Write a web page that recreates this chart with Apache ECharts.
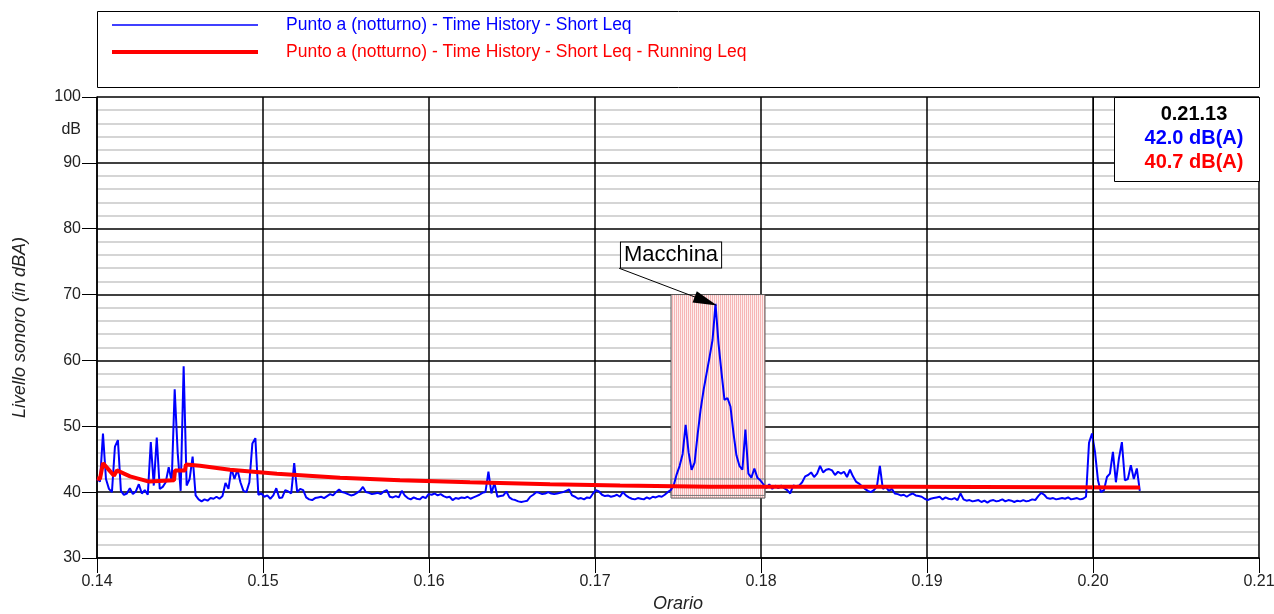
<!DOCTYPE html>
<html><head><meta charset="utf-8">
<script src="https://cdn.jsdelivr.net/npm/echarts@6/dist/echarts.min.js"></script>
<style>html,body{margin:0;padding:0;background:#fff;overflow:hidden}#c{width:1274px;height:614px}</style>
</head><body><div id="c"></div><script>
// ---- data ----
const seriesNames = [
  'Punto a (notturno) - Time History - Short Leq',
  'Punto a (notturno) - Time History - Short Leq - Running Leq'
];
const xRange = [0.14, 0.21];
const yRange = [30, 100];
const blueStart = 0.14;     // time of first Short Leq sample
const blueStep = 0.00018;   // sampling interval of Short Leq
const blueValues = [
  42.0,41.6,48.9,42.0,40.5,40.0,46.9,47.9,40.2,39.6,
  39.8,40.6,39.7,40.1,41.2,39.8,40.3,39.6,47.6,41.0,
  48.3,40.5,40.8,41.5,43.8,41.6,55.6,46.0,40.2,59.1,
  41.0,42.0,45.4,39.5,38.9,38.6,38.9,38.7,39.1,39.0,
  39.3,39.0,39.4,41.4,40.5,43.6,42.0,43.4,41.5,40.2,
  40.0,41.5,47.4,48.2,39.6,39.8,39.3,39.5,39.0,39.5,
  40.6,39.1,39.2,40.3,40.1,39.8,44.4,40.0,40.5,40.3,
  39.2,38.9,38.8,39.1,39.2,39.3,39.1,39.4,39.7,39.5,
  40.0,40.4,40.0,39.9,39.7,39.5,39.6,39.9,40.2,40.8,
  40.0,39.9,39.7,39.8,39.9,39.7,40.1,40.3,39.3,39.2,
  39.4,39.2,40.2,39.5,39.1,38.9,39.2,39.0,38.9,39.3,
  39.1,39.7,39.6,39.8,39.5,39.7,39.4,39.2,39.3,38.8,
  39.1,39.0,39.2,39.1,39.3,39.0,39.2,39.4,39.6,39.9,
  40.0,43.1,39.8,41.4,39.3,39.4,39.5,40.1,39.2,38.9,
  38.8,38.6,38.5,38.6,38.7,39.3,39.6,40.0,39.9,39.7,
  39.8,40.0,39.8,39.7,39.8,39.9,40.0,40.2,40.4,39.5,
  39.3,39.0,39.1,38.9,39.2,39.1,39.8,40.3,40.1,39.6,
  39.4,39.5,39.3,39.4,39.6,39.3,40.0,39.5,39.2,39.0,
  38.9,39.1,39.0,38.9,39.2,39.0,39.3,39.2,39.4,39.3,
  39.6,40.0,40.3,41.0,42.7,44.0,45.8,50.2,46.0,43.4,
  44.5,48.7,52.5,55.5,58.0,60.5,63.1,68.6,62.6,58.2,
  54.0,54.3,53.0,49.0,45.6,44.0,43.4,49.5,42.8,42.2,
  43.6,42.2,41.8,41.2,40.6,41.2,40.5,41.0,40.6,41.0,
  40.6,40.3,39.8,41.0,40.9,41.0,41.5,42.4,42.6,43.0,
  42.3,42.8,44.0,43.0,43.4,43.5,43.3,42.6,43.1,42.8,
  43.1,42.3,43.4,42.4,41.6,41.3,40.9,40.5,40.2,40.0,
  40.3,40.8,44.0,40.5,40.8,40.2,40.5,39.8,39.7,39.5,
  39.6,39.3,39.6,39.8,39.5,39.4,39.3,39.0,38.8,39.0,
  39.1,39.2,39.3,38.9,39.2,39.0,38.9,39.1,38.8,39.8,
  38.9,38.7,38.8,38.6,38.7,38.8,38.5,38.7,38.4,38.7,
  38.8,38.6,38.7,38.9,38.6,38.8,38.7,38.5,38.7,38.6,
  38.8,38.6,38.7,38.9,38.8,39.4,39.9,39.6,39.1,39.0,
  39.1,38.9,39.0,39.1,39.0,39.2,38.9,39.0,39.1,38.9,
  39.0,39.3,47.5,48.9,46.1,41.8,40.0,40.3,42.3,42.8,
  46.1,41.5,45.1,47.6,41.8,42.0,44.1,42.0,43.6,40.2
];
const runningLeq = [
  [0.14000,42.1],[0.14018,42.0],[0.14036,44.4],[0.14102,42.5],[0.14120,43.3],
  [0.14199,42.4],[0.14313,41.6],[0.14325,41.8],[0.14464,41.8],[0.14470,43.3],
  [0.14530,43.3],[0.14536,44.2],[0.14620,44.0],[0.14801,43.4],[0.15084,42.8],
  [0.15464,42.2],[0.15825,41.8],[0.16247,41.5],[0.16729,41.2],[0.17151,41.0],
  [0.17693,40.8],[0.18837,40.8],[0.20283,40.7]
];
const eventRegion = { x0: 0.17458, x1: 0.18024, y0: 39.1, y1: 70.0 };
const eventInner = { y0: 39.5, y1: 42.0 };
const eventLabel = { text: 'Macchina', at: [0.17458, 76.0], from: [0.17145, 74.0], to: [0.17668, 69.0] };
const cursorTime = 0.20282;
const cursorLabels = ['0.21.13', '42.0 dB(A)', '40.7 dB(A)'];
const yAxisUnit = { value: 95, text: 'dB' };

// ---- chart ----
const bluePts = blueValues.map((v, i) => [blueStart + i * blueStep, v]);
const pat = document.createElement('canvas');
pat.width = 2; pat.height = 2;
const pc = pat.getContext('2d');
pc.fillStyle = '#fdeeee'; pc.fillRect(0, 0, 2, 2);
pc.fillStyle = '#f6b6b6'; pc.fillRect(0, 0, 1, 2);

const FF = '"Liberation Sans", Arial, sans-serif';
const boxText = (t, y, color) => ({
  type: 'text', x: 1194, y: y, z: 101,
  style: { text: t, fill: color, font: 'bold 20px ' + FF, align: 'center', verticalAlign: 'middle', textAlign: 'center', textVerticalAlign: 'middle' }
});
const chart = echarts.init(document.getElementById('c'), null, { renderer: 'canvas' });
chart.setOption({
  animation: false,
  backgroundColor: '#fff',
  textStyle: { fontFamily: FF },
  grid: { left: 97, right: 15, top: 97, bottom: 56, containLabel: false, outerBoundsMode: 'none' },
  legend: {
    orient: 'vertical', left: 105, top: 11, itemWidth: 146, itemHeight: 14, itemGap: 9,
    selectedMode: false,
    itemStyle: { opacity: 0 },
    textStyle: { fontSize: 17.5, fontFamily: FF, padding: [0, 0, 0, 23] },
    data: [
      { name: seriesNames[0], textStyle: { color: '#0000ff' }, lineStyle: { width: 1.5, color: '#0000ff' } },
      { name: seriesNames[1], textStyle: { color: '#ff0000' }, lineStyle: { width: 4, color: '#ff0000' } }
    ]
  },
  xAxis: {
    type: 'value', min: xRange[0], max: xRange[1], interval: 0.01,
    name: 'Orario', nameLocation: 'middle', nameGap: 36,
    nameTextStyle: { fontStyle: 'italic', fontSize: 18, color: '#222', fontFamily: FF },
    axisLine: { lineStyle: { color: '#000', width: 1.5 } },
    axisTick: { length: 15, lineStyle: { color: '#000', width: 1 } },
    axisLabel: { margin: 16, fontSize: 16, color: '#222', formatter: v => v.toFixed(2) },
    splitLine: { show: true, lineStyle: { color: '#000', width: 1.5 } }
  },
  yAxis: [{
    type: 'value', min: yRange[0], max: yRange[1], interval: 10,
    name: 'Livello sonoro (in dBA)', nameLocation: 'middle', nameGap: 68, nameRotate: 90,
    nameTextStyle: { fontStyle: 'italic', fontSize: 18, color: '#222', fontFamily: FF },
    axisLine: { show: true, lineStyle: { color: '#000', width: 1.5 } },
    axisTick: { show: true, length: 15, lineStyle: { color: '#000', width: 1 } },
    axisLabel: { margin: 16, fontSize: 16, color: '#222' },
    splitLine: { show: true, lineStyle: { color: '#000', width: 1.5 } },
    minorTick: { show: false, splitNumber: 5 },
    minorSplitLine: { show: true, lineStyle: { color: '#c8c8c8', width: 1.5 } }
  }, {
    type: 'value', min: yRange[0], max: yRange[1], interval: 5, position: 'left',
    axisLine: { show: false }, axisTick: { show: false }, splitLine: { show: false },
    axisLabel: { margin: 16, fontSize: 16, color: '#222', formatter: v => v === yAxisUnit.value ? yAxisUnit.text : '' }
  }],
  series: [{
    name: seriesNames[0], type: 'line', data: bluePts, symbol: 'none', showSymbol: false,
    lineStyle: { color: '#0000ff', width: 2 }, itemStyle: { color: '#0000ff' }, z: 3,
    markArea: {
      silent: true,
      data: [
        [{ coord: [eventRegion.x0, eventRegion.y0], itemStyle: { color: { image: pat, repeat: 'repeat' }, borderColor: '#555', borderWidth: 1 } },
         { coord: [eventRegion.x1, eventRegion.y1] }],
        [{ coord: [eventRegion.x0, eventInner.y0], itemStyle: { color: 'rgba(0,0,0,0)', borderColor: '#777', borderWidth: 1 } },
         { coord: [eventRegion.x1, eventInner.y1] }]
      ]
    },
    markLine: {
      silent: true, symbol: ['none', 'triangle'], symbolSize: [12, 24],
      lineStyle: { color: '#000', width: 1, type: 'solid' }, label: { show: false },
      data: [[{ coord: eventLabel.from }, { coord: eventLabel.to }]]
    },
    markPoint: {
      silent: true,
      data: [{
        coord: eventLabel.at, symbol: 'rect', symbolSize: 1, itemStyle: { color: 'rgba(0,0,0,0)' },
        label: { show: true, position: 'inside', formatter: eventLabel.text, fontSize: 22, color: '#000', fontFamily: FF,
          backgroundColor: '#fff', borderColor: '#000', borderWidth: 1, padding: [2, 3, 1, 3] }
      }]
    }
  }, {
    name: seriesNames[1], type: 'line', data: runningLeq, symbol: 'none', showSymbol: false,
    lineStyle: { color: '#ff0000', width: 4 }, itemStyle: { color: '#ff0000' }, z: 4,
    markLine: {
      silent: true, symbol: 'none', label: { show: false },
      lineStyle: { color: '#000', width: 1, type: 'solid' },
      data: [{ xAxis: cursorTime }]
    }
  }],
  graphic: [
    { type: 'rect', z: 100, shape: { x: 97.5, y: 11.5, width: 1162, height: 76 }, style: { fill: 'none', stroke: '#000', lineWidth: 1 } },
    { type: 'rect', z: 100, shape: { x: 1114.5, y: 97.5, width: 145, height: 84 }, style: { fill: '#fff', stroke: '#000', lineWidth: 1 } },
    boxText(cursorLabels[0], 114, '#000'),
    boxText(cursorLabels[1], 138, '#0000ff'),
    boxText(cursorLabels[2], 162, '#ff0000')
  ]
});
</script></body></html>
